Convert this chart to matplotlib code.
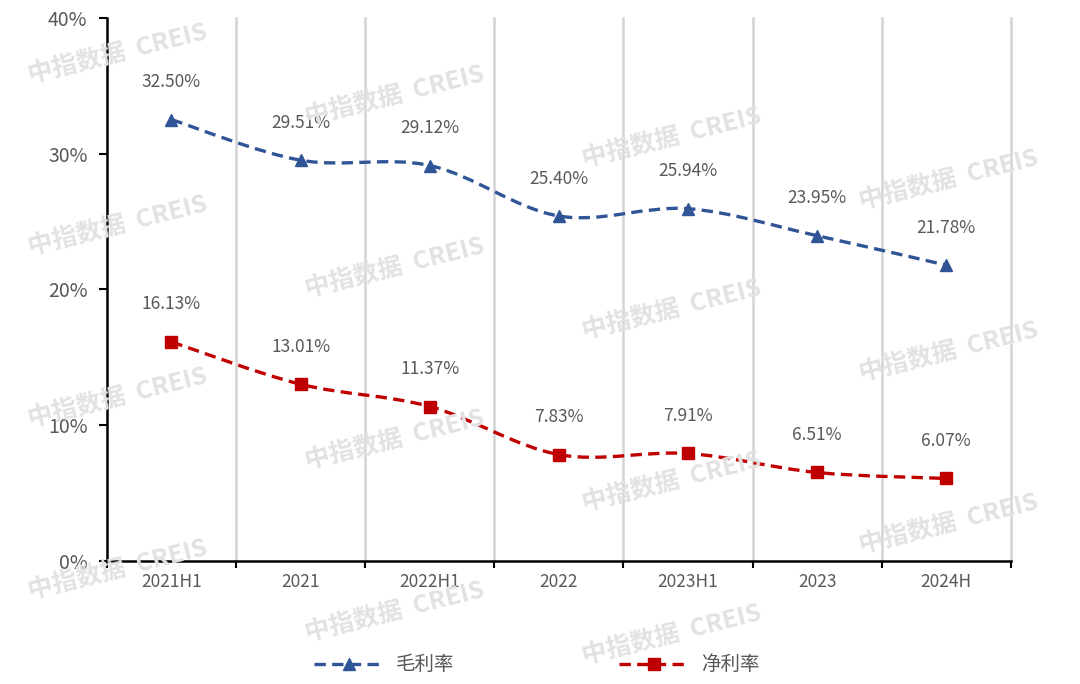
import matplotlib
matplotlib.use("Agg")
import matplotlib.pyplot as plt
from matplotlib.path import Path
from matplotlib.patches import PathPatch
from matplotlib.ticker import FuncFormatter
from matplotlib.lines import Line2D

plt.rcParams['font.family'] = ['Noto Sans CJK SC', 'DejaVu Sans']

periods = ["2021H1", "2021", "2022H1", "2022", "2023H1", "2023", "2024H"]
gross_margin = [32.50, 29.51, 29.12, 25.40, 25.94, 23.95, 21.78]
net_margin = [16.13, 13.01, 11.37, 7.83, 7.91, 6.51, 6.07]
series_names = ["毛利率", "净利率"]

BLUE = "#2F5597"
RED = "#C00000"
TEXT = "#595959"
DASH = (0, (3.4, 1.9))


def smooth_path(xs, ys):
    # Excel-style smoothed line: cubic Bezier segments through each point
    verts = [(xs[0], ys[0])]
    codes = [Path.MOVETO]
    n = len(xs)
    for i in range(n - 1):
        x0, y0 = (xs[i - 1], ys[i - 1]) if i > 0 else (xs[i], ys[i])
        x1, y1 = xs[i], ys[i]
        x2, y2 = xs[i + 1], ys[i + 1]
        x3, y3 = (xs[i + 2], ys[i + 2]) if i + 2 < n else (x2, y2)
        c1 = (x1 + (x2 - x0) / 6, y1 + (y2 - y0) / 6)
        c2 = (x2 - (x3 - x1) / 6, y2 - (y3 - y1) / 6)
        verts += [c1, c2, (x2, y2)]
        codes += [Path.CURVE4] * 3
    return Path(verts, codes)


fig = plt.figure(figsize=(10.8, 6.84), dpi=100)
ax = fig.add_axes([0.099, 0.180, 0.837, 0.794])

# faint watermark
for col in range(4):
    for row in range(-1, 5):
        wx = 118 + col * 277
        wy = 55 + col * 42 + row * 172
        if wy < 30 or wy > 670:
            continue
        wy = min(wy, 636)
        fig.text(wx / 1080, 1 - wy / 684, "中指数据  CREIS", fontsize=18,
                 fontweight="bold", color="#e2e2e2", rotation=14,
                 ha="center", va="center", zorder=0)

x = list(range(len(periods)))
for vals, color, marker, ms in [(gross_margin, BLUE, "^", 8),
                                (net_margin, RED, "s", 8)]:
    ax.add_patch(PathPatch(smooth_path(x, vals), fill=False, edgecolor=color,
                           lw=2.4, linestyle=DASH, zorder=3))
    ax.plot(x, vals, linestyle="none", marker=marker, ms=ms, color=color,
            zorder=4)
    for xi, v in zip(x, vals):
        ax.annotate(f"{v:.2f}%", (xi, v), xytext=(0, 27),
                    textcoords="offset points", ha="center", va="center",
                    fontsize=12.5, color=TEXT)

ax.set_xlim(-0.5, len(periods) - 0.5)
ax.set_ylim(0, 40)
ax.set_yticks([0, 10, 20, 30, 40])
ax.yaxis.set_major_formatter(FuncFormatter(lambda v, p: f"{v:.0f}%"))
ax.tick_params(axis="y", labelsize=14, labelcolor=TEXT, length=6,
               width=1.5, color="black", pad=8)

ax.set_xticks(x)
ax.set_xticklabels(periods)
ax.tick_params(axis="x", which="major", length=0, labelsize=12.5,
               labelcolor=TEXT, pad=9)
bounds = [i + 0.5 for i in range(-1, len(periods))]
ax.set_xticks(bounds, minor=True)
ax.tick_params(axis="x", which="minor", length=5, width=1.5, color="black")
for b in bounds[1:]:
    ax.axvline(b, color="#d4d4d4", lw=1.8, zorder=1, clip_on=False)

for side in ["top", "right"]:
    ax.spines[side].set_visible(False)
ax.spines["left"].set_linewidth(1.8)
ax.spines["bottom"].set_linewidth(1.8)
ax.spines["bottom"].set_zorder(2.5)
ax.set_facecolor("none")

handles = [
    Line2D([], [], color=BLUE, lw=2.4, linestyle=DASH, marker="^", ms=8),
    Line2D([], [], color=RED, lw=2.4, linestyle=DASH, marker="s", ms=8),
]
fig.legend(handles, series_names, loc="center", bbox_to_anchor=(0.497, 0.028),
           ncol=2, frameon=False, fontsize=14, handlelength=3.6,
           handletextpad=0.6, columnspacing=8.5, labelcolor=TEXT)

fig.savefig("out.png", dpi=100)
